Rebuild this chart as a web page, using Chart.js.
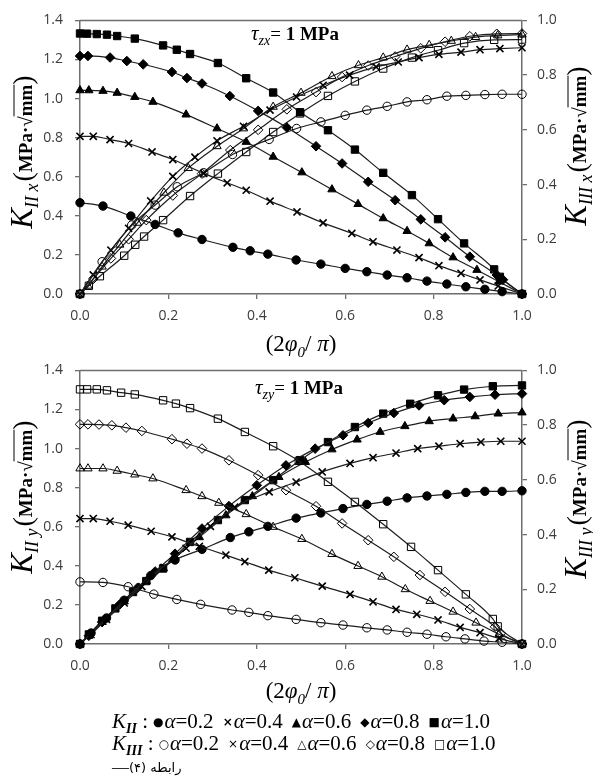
<!DOCTYPE html>
<html>
<head>
<meta charset="utf-8">
<script src="https://cdn.jsdelivr.net/npm/chart.js@4"></script>
<style>
body{margin:0;background:#fff;width:593px;height:776px;position:relative;overflow:hidden;font-family:"Liberation Serif","Times New Roman",serif;color:#000}
canvas{position:absolute;left:0}
#c1{top:0}
#c2{top:350px}
.t{position:absolute;white-space:nowrap;line-height:1}
.c{transform:translate(-50%,-50%)}
.yt{transform:translate(-50%,-50%) rotate(-90deg)}
.K{font-style:italic;font-size:31px}
.ks{font-style:italic;font-size:18px;vertical-align:-6px;margin-right:2px}
.u{font-weight:bold;font-size:19px}
.par{font-size:28px;font-weight:normal}
.ol{text-decoration:overline}
.xt{font-size:23px}
.xt sub{font-size:15px;font-style:italic}
.tau{font-size:19px}
.tau i{font-size:21px}
.tau sub{font-size:14px;font-style:italic}
.leg{font-size:21px;left:112px}
.leg sub{font-size:14px;font-style:italic;font-weight:bold}
.m{font-family:"DejaVu Sans",sans-serif;font-size:12px;margin:0 1px 0 9px;vertical-align:2px}
</style>
</head>
<body>
<canvas id="c1" width="593" height="340"></canvas>
<canvas id="c2" width="593" height="340"></canvas>

<div class="t tau" style="left:251px;top:23px"><i>τ</i><sub>zx</sub>= <b>1 MPa</b></div>
<div class="t tau" style="left:255px;top:377px"><i>τ</i><sub>zy</sub>= <b>1 MPa</b></div>

<div class="t yt" style="left:23px;top:152px"><span class="K">K</span><span class="ks">II x</span><span class="u"><span class="par">(</span>MPa·√<span class="ol">mm</span><span class="par">)</span></span></div>
<div class="t yt" style="left:577px;top:146px"><span class="K">K</span><span class="ks">III x</span><span class="u"><span class="par">(</span>MPa·√<span class="ol">mm</span><span class="par">)</span></span></div>
<div class="t yt" style="left:23px;top:497px"><span class="K">K</span><span class="ks">II y</span><span class="u"><span class="par">(</span>MPa·√<span class="ol">mm</span><span class="par">)</span></span></div>
<div class="t yt" style="left:577px;top:499px"><span class="K">K</span><span class="ks">III y</span><span class="u"><span class="par">(</span>MPa·√<span class="ol">mm</span><span class="par">)</span></span></div>

<div class="t c xt" style="left:301px;top:346px">(2<i>φ</i><sub>0</sub>/ <i>π</i>)</div>
<div class="t c xt" style="left:301px;top:693px">(2<i>φ</i><sub>0</sub>/ <i>π</i>)</div>

<div class="t leg" style="top:711px"><i>K</i><sub>II</sub> :<span class="m" style="margin-left:5px">●</span><i>α</i>=0.2<span class="m"><b>×</b></span><i>α</i>=0.4<span class="m">▲</span><i>α</i>=0.6<span class="m">◆</span><i>α</i>=0.8<span class="m">■</span><i>α</i>=1.0</div>
<div class="t leg" style="top:733px"><i>K</i><sub>III</sub> :<span class="m" style="margin-left:5px">○</span><i>α</i>=0.2<span class="m">×</span><i>α</i>=0.4<span class="m">△</span><i>α</i>=0.6<span class="m">◇</span><i>α</i>=0.8<span class="m">□</span><i>α</i>=1.0</div>
<div class="t" style="left:112px;top:758px;font-size:17px"><span>—</span><span dir="rtl" style="font-family:'DejaVu Sans',sans-serif;font-size:13px">رابطه (۴)</span></div>

<script>
// top chart (tau_zx): K_II falling on left axis, K_III rising on right axis
const xSqII1 = [0, 0.016, 0.038, 0.061, 0.084, 0.124, 0.188, 0.219, 0.249, 0.312, 0.376, 0.437, 0.498, 0.561, 0.622, 0.686, 0.751, 0.81, 0.869, 0.937, 0.95, 1.0];
const ySqII1 = [1.333, 1.332, 1.33, 1.327, 1.32, 1.307, 1.272, 1.25, 1.228, 1.182, 1.104, 1.031, 0.93, 0.838, 0.739, 0.62, 0.506, 0.383, 0.259, 0.126, 0.088, 0];
const xDiII1 = [0, 0.018, 0.068, 0.106, 0.143, 0.208, 0.242, 0.276, 0.339, 0.403, 0.468, 0.534, 0.593, 0.652, 0.713, 0.771, 0.826, 0.882, 0.943, 0.957, 1.0];
const yDiII1 = [1.218, 1.218, 1.21, 1.192, 1.175, 1.136, 1.105, 1.077, 1.013, 0.937, 0.852, 0.756, 0.668, 0.574, 0.48, 0.382, 0.29, 0.191, 0.097, 0.073, 0];
const xTrII1 = [0, 0.02, 0.052, 0.084, 0.124, 0.165, 0.24, 0.31, 0.376, 0.437, 0.502, 0.57, 0.629, 0.686, 0.74, 0.79, 0.844, 0.898, 0.948, 1.0];
const yTrII1 = [1.042, 1.042, 1.039, 1.029, 1.008, 0.983, 0.918, 0.847, 0.778, 0.702, 0.622, 0.535, 0.46, 0.387, 0.322, 0.259, 0.187, 0.123, 0.063, 0];
const xCrII1 = [0, 0.03, 0.068, 0.11, 0.163, 0.21, 0.28, 0.333, 0.376, 0.43, 0.491, 0.55, 0.615, 0.663, 0.717, 0.767, 0.812, 0.862, 0.905, 0.946, 1.0];
const yCrII1 = [0.807, 0.807, 0.79, 0.77, 0.727, 0.688, 0.617, 0.569, 0.531, 0.475, 0.42, 0.364, 0.31, 0.267, 0.225, 0.186, 0.145, 0.106, 0.072, 0.041, 0];
const xCiII1 = [0, 0.052, 0.115, 0.17, 0.222, 0.276, 0.346, 0.385, 0.425, 0.489, 0.545, 0.6, 0.649, 0.695, 0.74, 0.785, 0.83, 0.873, 0.916, 0.955, 1.0];
const yCiII1 = [0.467, 0.45, 0.399, 0.356, 0.313, 0.279, 0.239, 0.221, 0.204, 0.174, 0.153, 0.131, 0.114, 0.097, 0.083, 0.066, 0.051, 0.037, 0.024, 0.012, 0];

const xSqIII1 = [0, 0.02, 0.045, 0.1, 0.125, 0.145, 0.188, 0.249, 0.312, 0.376, 0.437, 0.498, 0.561, 0.622, 0.686, 0.751, 0.81, 0.869, 0.937, 1.0];
const ySqIII1 = [0, 0.03, 0.065, 0.14, 0.18, 0.21, 0.27, 0.358, 0.44, 0.519, 0.592, 0.66, 0.724, 0.777, 0.824, 0.864, 0.891, 0.917, 0.929, 0.93];
const xDiIII1 = [0, 0.03, 0.07, 0.11, 0.15, 0.21, 0.276, 0.34, 0.403, 0.468, 0.534, 0.593, 0.652, 0.713, 0.771, 0.826, 0.882, 0.943, 1.0];
const yDiIII1 = [0, 0.055, 0.13, 0.2, 0.27, 0.36, 0.44, 0.526, 0.6, 0.675, 0.738, 0.793, 0.835, 0.868, 0.898, 0.922, 0.942, 0.951, 0.952];
const xTrIII1 = [0, 0.018, 0.05, 0.09, 0.13, 0.19, 0.245, 0.31, 0.37, 0.437, 0.5, 0.57, 0.63, 0.686, 0.74, 0.79, 0.84, 0.895, 0.945, 1.0];
const yTrIII1 = [0, 0.03, 0.1, 0.18, 0.26, 0.37, 0.46, 0.54, 0.605, 0.684, 0.735, 0.796, 0.836, 0.864, 0.893, 0.91, 0.925, 0.939, 0.945, 0.948];
const xCrIII1 = [0, 0.03, 0.07, 0.11, 0.16, 0.21, 0.26, 0.31, 0.37, 0.43, 0.49, 0.55, 0.61, 0.67, 0.72, 0.767, 0.812, 0.862, 0.905, 0.95, 1.0];
const yCrIII1 = [0, 0.07, 0.16, 0.24, 0.34, 0.43, 0.5, 0.56, 0.613, 0.672, 0.72, 0.763, 0.8, 0.83, 0.848, 0.864, 0.876, 0.884, 0.893, 0.897, 0.9];
const xCiIII1 = [0, 0.05, 0.117, 0.17, 0.22, 0.28, 0.345, 0.428, 0.49, 0.545, 0.6, 0.649, 0.695, 0.74, 0.785, 0.83, 0.873, 0.916, 0.955, 1.0];
const yCiIII1 = [0, 0.118, 0.252, 0.325, 0.392, 0.443, 0.51, 0.565, 0.605, 0.629, 0.653, 0.672, 0.686, 0.702, 0.71, 0.723, 0.726, 0.729, 0.73, 0.73];

// bottom chart (tau_zy): K_III falling on left axis, K_II rising on right axis
const xSqIII2 = [0, 0.016, 0.038, 0.061, 0.093, 0.124, 0.188, 0.217, 0.249, 0.312, 0.373, 0.437, 0.495, 0.561, 0.622, 0.686, 0.749, 0.81, 0.873, 0.934, 0.945, 1.0];
const ySqIII2 = [1.303, 1.303, 1.303, 1.298, 1.286, 1.277, 1.247, 1.23, 1.207, 1.153, 1.085, 1.012, 0.937, 0.83, 0.727, 0.613, 0.497, 0.378, 0.254, 0.128, 0.09, 0];
const xDiIII2 = [0, 0.018, 0.043, 0.072, 0.104, 0.14, 0.208, 0.242, 0.276, 0.337, 0.403, 0.466, 0.534, 0.593, 0.652, 0.71, 0.769, 0.826, 0.882, 0.939, 0.952, 1.0];
const yDiIII2 = [1.124, 1.124, 1.123, 1.119, 1.107, 1.09, 1.048, 1.025, 1.0, 0.94, 0.864, 0.787, 0.705, 0.617, 0.531, 0.446, 0.353, 0.267, 0.179, 0.088, 0.055, 0];
const xTrIII2 = [0, 0.018, 0.052, 0.084, 0.124, 0.165, 0.24, 0.276, 0.314, 0.376, 0.437, 0.502, 0.57, 0.629, 0.683, 0.736, 0.792, 0.844, 0.896, 0.948, 1.0];
const yTrIII2 = [0.898, 0.898, 0.898, 0.886, 0.867, 0.847, 0.787, 0.756, 0.722, 0.664, 0.599, 0.537, 0.46, 0.399, 0.344, 0.28, 0.22, 0.165, 0.109, 0.05, 0];
const xCrIII2 = [0, 0.03, 0.068, 0.109, 0.161, 0.208, 0.27, 0.33, 0.373, 0.427, 0.486, 0.548, 0.611, 0.663, 0.715, 0.762, 0.81, 0.86, 0.905, 0.948, 1.0];
const yCrIII2 = [0.642, 0.642, 0.628, 0.608, 0.577, 0.548, 0.5, 0.455, 0.421, 0.378, 0.339, 0.296, 0.254, 0.216, 0.177, 0.152, 0.123, 0.085, 0.058, 0.029, 0];
const xCiIII2 = [0, 0.052, 0.109, 0.167, 0.219, 0.273, 0.344, 0.382, 0.425, 0.489, 0.545, 0.595, 0.649, 0.695, 0.74, 0.785, 0.828, 0.871, 0.914, 0.955, 1.0];
const yCiIII2 = [0.318, 0.315, 0.293, 0.255, 0.228, 0.203, 0.174, 0.162, 0.145, 0.126, 0.109, 0.097, 0.083, 0.072, 0.06, 0.05, 0.037, 0.026, 0.015, 0.009, 0];

const xSqII2 = [0, 0.02, 0.05, 0.08, 0.12, 0.15, 0.188, 0.249, 0.312, 0.373, 0.437, 0.498, 0.561, 0.622, 0.686, 0.747, 0.81, 0.869, 0.934, 1.0];
const ySqII2 = [0, 0.035, 0.085, 0.13, 0.19, 0.23, 0.276, 0.373, 0.453, 0.526, 0.599, 0.672, 0.738, 0.793, 0.842, 0.878, 0.909, 0.93, 0.942, 0.945];
const xDiII2 = [0, 0.02, 0.05, 0.09, 0.13, 0.17, 0.215, 0.276, 0.337, 0.4, 0.466, 0.532, 0.595, 0.652, 0.71, 0.767, 0.824, 0.882, 0.939, 1.0];
const yDiII2 = [0, 0.03, 0.08, 0.145, 0.205, 0.265, 0.33, 0.422, 0.504, 0.58, 0.653, 0.714, 0.763, 0.808, 0.844, 0.872, 0.891, 0.903, 0.911, 0.915];
const xTrII2 = [0, 0.02, 0.05, 0.1, 0.15, 0.21, 0.27, 0.33, 0.39, 0.45, 0.51, 0.57, 0.627, 0.679, 0.735, 0.79, 0.844, 0.894, 0.946, 1.0];
const yTrII2 = [0, 0.03, 0.08, 0.155, 0.23, 0.31, 0.39, 0.47, 0.54, 0.61, 0.665, 0.711, 0.747, 0.775, 0.796, 0.814, 0.824, 0.832, 0.842, 0.846];
const xCrII2 = [0, 0.025, 0.06, 0.1, 0.14, 0.19, 0.24, 0.295, 0.35, 0.428, 0.489, 0.548, 0.611, 0.663, 0.715, 0.764, 0.812, 0.86, 0.907, 0.952, 1.0];
const yCrII2 = [0, 0.035, 0.09, 0.15, 0.21, 0.28, 0.35, 0.43, 0.5, 0.556, 0.592, 0.629, 0.66, 0.681, 0.698, 0.714, 0.723, 0.732, 0.738, 0.741, 0.741];
const xCiII2 = [0, 0.025, 0.06, 0.1, 0.16, 0.215, 0.276, 0.34, 0.382, 0.425, 0.489, 0.545, 0.595, 0.649, 0.695, 0.74, 0.785, 0.83, 0.873, 0.916, 0.955, 1.0];
const yCiII2 = [0, 0.04, 0.095, 0.16, 0.25, 0.307, 0.346, 0.389, 0.41, 0.43, 0.46, 0.479, 0.495, 0.51, 0.522, 0.534, 0.541, 0.547, 0.554, 0.558, 0.558, 0.56];

const xTicks = [0, 0.2, 0.4, 0.6, 0.8, 1.0];

function pts(xs, ys) {
    return xs.map((x, i) => ({ x: x, y: ys[i] }));
}

// marker look per alpha value
const markers = {
    '0.2': { style: 'circle', r: 4.2 },
    '0.4': { style: 'crossRot', r: 5 },
    '0.6': { style: 'triangle', r: 4.8 },
    '0.8': { style: 'rectRot', r: 4.8 },
    '1.0': { style: 'rect', r: 5.2 }
};

function series(label, xs, ys, alpha, filled, axis) {
    const m = markers[alpha];
    return {
        label: label,
        data: pts(xs, ys),
        yAxisID: axis,
        borderColor: '#1e1e1e',
        borderWidth: 1.2,
        cubicInterpolationMode: 'monotone',
        pointStyle: m.style,
        pointRadius: m.r,
        pointBorderColor: '#000',
        pointBorderWidth: m.style === 'crossRot' ? 1.6 : 1,
        pointBackgroundColor: filled ? '#000' : 'rgba(0,0,0,0)',
        clip: 10
    };
}

const tickFont = { family: 'Open Sans', size: 14 };
const axisGrey = '#6e6e6e';

function scales() {
    const grid = { drawOnChartArea: false, drawTicks: true, tickLength: 5, color: axisGrey, lineWidth: 1.3 };
    const border = { display: true, color: axisGrey, width: 1.5 };
    const fmt = v => Number(v).toFixed(1);
    return {
        x: {
            type: 'linear', min: 0, max: 1,
            afterBuildTicks: s => { s.ticks = xTicks.map(v => ({ value: v })); },
            ticks: { callback: fmt, font: tickFont, color: '#3c3c3c', padding: 9, maxRotation: 0 },
            grid: grid, border: border,
            afterFit: s => { s.height = 46; }
        },
        yL: {
            position: 'left', min: 0, max: 1.4,
            ticks: { stepSize: 0.2, callback: fmt, font: tickFont, color: '#3c3c3c', padding: 12 },
            grid: grid, border: border,
            afterFit: s => { s.width = 80; }
        },
        yR: {
            position: 'right', min: 0, max: 1.0,
            ticks: { stepSize: 0.2, callback: fmt, font: tickFont, color: '#3c3c3c', padding: 10 },
            grid: grid, border: border,
            afterFit: s => { s.width = 71; }
        }
    };
}

const topLine = {
    id: 'topLine',
    afterDraw(chart) {
        const a = chart.chartArea, ctx = chart.ctx;
        ctx.save();
        ctx.strokeStyle = axisGrey;
        ctx.lineWidth = 1.5;
        ctx.beginPath();
        ctx.moveTo(a.left, a.top);
        ctx.lineTo(a.right, a.top);
        ctx.stroke();
        ctx.restore();
    }
};

function makeChart(id, datasets) {
    return new Chart(document.getElementById(id), {
        type: 'line',
        data: { datasets: datasets },
        options: {
            responsive: false,
            animation: false,
            devicePixelRatio: 1,
            layout: { padding: { top: 20, left: 0, right: 0, bottom: 0 } },
            plugins: { legend: { display: false }, tooltip: { enabled: false } },
            scales: scales()
        },
        plugins: [topLine]
    });
}

makeChart('c1', [
    series('KII a=0.2', xCiII1, yCiII1, '0.2', true, 'yL'),
    series('KII a=0.4', xCrII1, yCrII1, '0.4', true, 'yL'),
    series('KII a=0.6', xTrII1, yTrII1, '0.6', true, 'yL'),
    series('KII a=0.8', xDiII1, yDiII1, '0.8', true, 'yL'),
    series('KII a=1.0', xSqII1, ySqII1, '1.0', true, 'yL'),
    series('KIII a=0.2', xCiIII1, yCiIII1, '0.2', false, 'yR'),
    series('KIII a=0.4', xCrIII1, yCrIII1, '0.4', false, 'yR'),
    series('KIII a=0.6', xTrIII1, yTrIII1, '0.6', false, 'yR'),
    series('KIII a=0.8', xDiIII1, yDiIII1, '0.8', false, 'yR'),
    series('KIII a=1.0', xSqIII1, ySqIII1, '1.0', false, 'yR')
]);

makeChart('c2', [
    series('KIII a=0.2', xCiIII2, yCiIII2, '0.2', false, 'yL'),
    series('KIII a=0.4', xCrIII2, yCrIII2, '0.4', false, 'yL'),
    series('KIII a=0.6', xTrIII2, yTrIII2, '0.6', false, 'yL'),
    series('KIII a=0.8', xDiIII2, yDiIII2, '0.8', false, 'yL'),
    series('KIII a=1.0', xSqIII2, ySqIII2, '1.0', false, 'yL'),
    series('KII a=0.2', xCiII2, yCiII2, '0.2', true, 'yR'),
    series('KII a=0.4', xCrII2, yCrII2, '0.4', true, 'yR'),
    series('KII a=0.6', xTrII2, yTrII2, '0.6', true, 'yR'),
    series('KII a=0.8', xDiII2, yDiII2, '0.8', true, 'yR'),
    series('KII a=1.0', xSqII2, ySqII2, '1.0', true, 'yR')
]);
</script>
</body>
</html>
